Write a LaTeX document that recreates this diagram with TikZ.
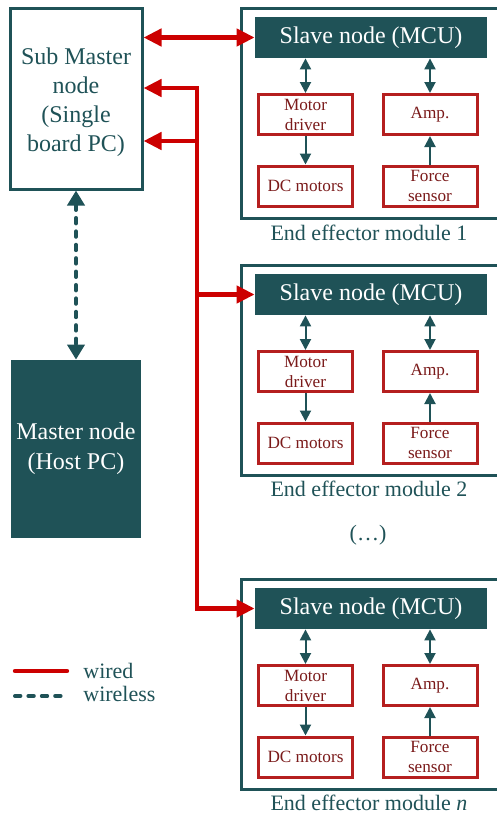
\documentclass[tikz,border=0pt]{standalone}
\usepackage{fontspec}
\setmainfont{Liberation Serif}
\usetikzlibrary{arrows.meta}
\definecolor{teal}{HTML}{1F5257}
\definecolor{wirered}{HTML}{CC0000}
\definecolor{boxred}{HTML}{B51F1F}
\definecolor{txtred}{HTML}{7A1A1A}
\begin{document}
\begin{tikzpicture}[x=0.5pt,y=0.5pt]
      \tikzstyle{every node}+=[inner sep=0pt]
      \tikzstyle{pc}=[draw=teal, line width=1.5pt]
      \tikzstyle{pctext}=[text=teal, align=center, font=\fontsize{12}{14.5}\selectfont]
      \tikzstyle{host}=[fill=teal, text=white, align=center, font=\fontsize{12}{15}\selectfont]
      \tikzstyle{module}=[draw=teal, line width=1.5pt, minimum width=129.5pt, minimum height=105pt]
      \tikzstyle{slave}=[fill=teal, text=white, minimum width=116pt, minimum height=20.5pt, font=\fontsize{12}{14}\selectfont]
      \tikzstyle{part}=[draw=boxred, line width=1.5pt, text=txtred, align=center, minimum width=47pt, minimum height=20pt, font=\fontsize{8.6}{10}\selectfont]
      \tikzstyle{caption}=[text=teal, font=\fontsize{11}{13}\selectfont]
      \tikzstyle{wire}=[draw=wirered, line width=2.2pt, >={Triangle[length=9pt,width=8.5pt]}]
      \tikzstyle{link}=[draw=teal, line width=1pt, >={Triangle[length=5.5pt,width=5.5pt]}]
      \tikzstyle{wifi}=[draw=teal, line width=2pt, line cap=round, dash pattern=on 2.7pt off 4pt, >={Triangle[length=7.5pt,width=8.5pt]}]
      \useasboundingbox (0,0) rectangle (497,-815);
      % computers
      \node [pc, minimum width=66pt, minimum height=90.5pt, label={[pctext, yshift=-2pt]center:Sub Master\\node\\(Single\\board PC)}] (sub) at (76,-98.5) {};
      \node [host, minimum width=65pt, minimum height=89pt] (host) at (76,-449) {Master node\\(Host PC)};
      % module 1
      \node [module] (mod1) at (370.5,-113) {};
      \node [slave] (slave1) at (371,-37.5) {Slave node (MCU)};
      \node [part] (drv1) at (305.5,-114.5) {Motor\\driver};
      \node [part] (amp1) at (430,-114.5) {Amp.};
      \node [part] (dcm1) at (305.5,-186) {DC motors};
      \node [part] (fsn1) at (430,-186) {Force\\sensor};
      \node [caption] (lab1) at (369,-233) {End effector module 1};
      % module 2
      \node [module] (mod2) at (370.5,-370) {};
      \node [slave] (slave2) at (371,-294.5) {Slave node (MCU)};
      \node [part] (drv2) at (305.5,-371.5) {Motor\\driver};
      \node [part] (amp2) at (430,-371.5) {Amp.};
      \node [part] (dcm2) at (305.5,-443) {DC motors};
      \node [part] (fsn2) at (430,-443) {Force\\sensor};
      \node [caption] (lab2) at (369,-489) {End effector module 2};
      \node [caption] (dots) at (368,-535) {(\ldots)};
      % module n
      \node [module] (modn) at (370.5,-684) {};
      \node [slave] (slaven) at (371,-608.5) {Slave node (MCU)};
      \node [part] (drvn) at (305.5,-685.5) {Motor\\driver};
      \node [part] (ampn) at (430,-685.5) {Amp.};
      \node [part] (dcmn) at (305.5,-757) {DC motors};
      \node [part] (fsnn) at (430,-757) {Force\\sensor};
      \node [caption] (labn) at (369,-803) {End effector module \textit{n}};
      % inner links
      \draw [link,<->] (slave1.south -| drv1) -- (drv1.north);
      \draw [link,<->] (slave1.south -| amp1) -- (amp1.north);
      \draw [link,->] (drv1) -- (dcm1);
      \draw [link,->] (fsn1) -- (amp1);
      \draw [link,<->] (slave2.south -| drv2) -- (drv2.north);
      \draw [link,<->] (slave2.south -| amp2) -- (amp2.north);
      \draw [link,->] (drv2) -- (dcm2);
      \draw [link,->] (fsn2) -- (amp2);
      \draw [link,<->] (slaven.south -| drvn) -- (drvn.north);
      \draw [link,<->] (slaven.south -| ampn) -- (ampn.north);
      \draw [link,->] (drvn) -- (dcmn);
      \draw [link,->] (fsnn) -- (ampn);
      % wired bus
      \coordinate (bustop) at (197,-88);
      \coordinate (busmid) at (197,-141);
      \draw [wire,<->] (sub.east |- slave1.west) -- (slave1.west);
      \draw [wire,<->] (sub.east |- bustop) -- (bustop) -- (bustop |- slaven.west) -- (slaven.west);
      \draw [wire,->] (busmid) -- (sub.east |- busmid);
      \draw [wire,->] (bustop |- slave2.west) -- (slave2.west);
      % wireless
      \draw [wifi,<->] (sub) -- (host);
      % legend
      \coordinate (wa) at (15,-671);
      \coordinate (wb) at (67,-671);
      \coordinate (wc) at (15,-696);
      \coordinate (wd) at (67,-696);
      \draw [wire, line cap=round] (wa) -- (wb);
      \draw [wifi] (wc) -- (wd);
      \node [caption, anchor=west] (wired) at (83,-671) {wired};
      \node [caption, anchor=west] (wireless) at (83,-694) {wireless};
\end{tikzpicture}
\end{document}
